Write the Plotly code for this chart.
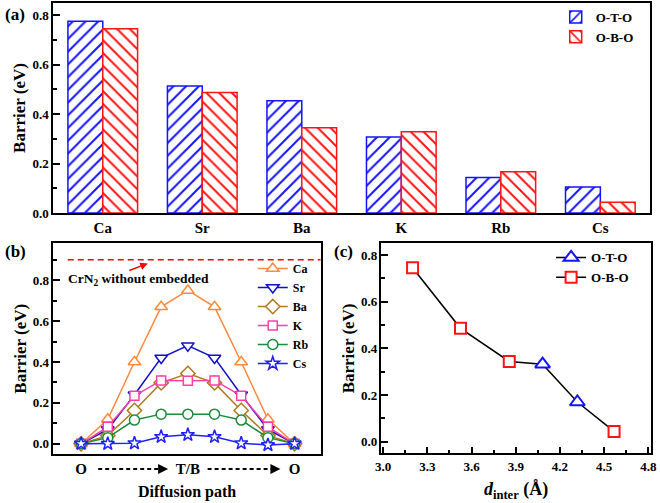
import plotly.graph_objects as go

# ---------------- data ----------------
metals = ["Ca", "Sr", "Ba", "K", "Rb", "Cs"]
oto_barrier = [0.776, 0.514, 0.454, 0.308, 0.144, 0.105]
obo_barrier = [0.746, 0.488, 0.345, 0.329, 0.167, 0.044]

path_index = [0, 1, 2, 3, 4, 5, 6, 7, 8]
path_tickvals = [0, 4, 8]
path_ticktext = ["O", "T/B", "O"]
path_ca = [0.0, 0.12, 0.40, 0.67, 0.75, 0.67, 0.40, 0.12, 0.0]
path_sr = [0.0, 0.07, 0.24, 0.42, 0.48, 0.42, 0.24, 0.07, 0.0]
path_ba = [0.0, 0.04, 0.163, 0.298, 0.344, 0.298, 0.163, 0.04, 0.0]
path_k = [0.0, 0.083, 0.235, 0.31, 0.308, 0.31, 0.235, 0.083, 0.0]
path_rb = [0.0, 0.03, 0.116, 0.145, 0.145, 0.145, 0.116, 0.03, 0.0]
path_cs = [0.0, 0.0, 0.003, 0.034, 0.044, 0.034, 0.003, -0.006, 0.0]
pristine_barrier = 0.90

d_inter = [3.20, 3.525, 3.856, 4.082, 4.318, 4.567]
d_barrier = [0.746, 0.486, 0.344, 0.332, 0.170, 0.044]
d_path = ["O-B-O", "O-B-O", "O-B-O", "O-T-O", "O-T-O", "O-B-O"]

# ---------------- styles ----------------
FONT = "Liberation Serif"
BLUE = "#1414FF"
RED = "#FF1414"
series_b = [
    ("Ca", path_ca, "#FF8A3D", "triangle-up", 11),
    ("Sr", path_sr, "#1010C8", "triangle-down", 11),
    ("Ba", path_ba, "#B07A1E", "diamond", 11),
    ("K", path_k, "#FF3FA6", "square", 9),
    ("Rb", path_rb, "#1A8C3C", "circle", 10),
    ("Cs", path_cs, "#2020FF", "star", 10),
]

fig = go.Figure()

# ---------------- panel (a) ----------------
fig.add_trace(go.Bar(
    x=metals, y=oto_barrier, name="O-T-O", xaxis="x", yaxis="y", legend="legend",
    marker=dict(color="white", line=dict(color=BLUE, width=1.5),
                pattern=dict(shape="/", fgcolor=BLUE, bgcolor="white", fgopacity=1,
                             size=9, solidity=0.22)),
))
fig.add_trace(go.Bar(
    x=metals, y=obo_barrier, name="O-B-O", xaxis="x", yaxis="y", legend="legend",
    marker=dict(color="white", line=dict(color=RED, width=1.5),
                pattern=dict(shape="\\", fgcolor=RED, bgcolor="white", fgopacity=1,
                             size=9, solidity=0.22)),
))

# ---------------- panel (b) ----------------
for name, vals, col, sym, sz in series_b:
    fig.add_trace(go.Scatter(
        x=path_index, y=vals, name=name, mode="lines+markers", xaxis="x2", yaxis="y2",
        legend="legend2",
        line=dict(color=col, width=1.5),
        marker=dict(symbol=sym, size=sz, color="white", line=dict(color=col, width=1.5)),
    ))

# ---------------- panel (c) ----------------
fig.add_trace(go.Scatter(
    x=d_inter, y=d_barrier, mode="lines", xaxis="x3", yaxis="y3", showlegend=False,
    line=dict(color="black", width=1.5),
))
for pname, sym, col, sz in [("O-T-O", "triangle-up", BLUE, 13), ("O-B-O", "square", RED, 11)]:
    xs = [x for x, p in zip(d_inter, d_path) if p == pname]
    ys = [y for y, p in zip(d_barrier, d_path) if p == pname]
    fig.add_trace(go.Scatter(
        x=xs, y=ys, mode="markers", xaxis="x3", yaxis="y3", showlegend=False,
        marker=dict(symbol=sym, size=sz, color="white", line=dict(color=col, width=2)),
    ))
    fig.add_trace(go.Scatter(
        x=[None], y=[None], name=pname, mode="lines+markers", xaxis="x3", yaxis="y3",
        legend="legend3",
        line=dict(color="black", width=1.5),
        marker=dict(symbol=sym, size=sz, color="white", line=dict(color=col, width=2)),
    ))

axis_common = dict(showline=True, linecolor="black", linewidth=1.5, mirror=True,
                   zeroline=False, showgrid=False, automargin=False)
ytick_common = dict(ticks="inside", ticklen=7, tickwidth=1.5, tickcolor="black",
                    tickformat=".1f", dtick=0.2, tick0=0,
                    tickfont=dict(size=13, family=FONT, color="black", weight="bold"),
                    minor=dict(ticks="inside", ticklen=4, tickwidth=1.5, tickcolor="black", dtick=0.1))
ytitle = dict(text="Barrier (eV)", font=dict(size=17, family=FONT, color="black", weight="bold"))

fig.update_layout(
    width=660, height=503,
    margin=dict(l=0, r=0, t=0, b=0),
    paper_bgcolor="white", plot_bgcolor="white",
    font=dict(family=FONT, color="black", weight="bold"),
    bargap=0.3, bargroupgap=0,
    xaxis=dict(domain=[0.0803, 0.985], anchor="y", **axis_common,
               ticks="", tickfont=dict(size=15, family=FONT, color="black", weight="bold")),
    yaxis=dict(domain=[0.5765, 0.994], anchor="x", range=[0, 0.85], **axis_common,
               **ytick_common, title=dict(standoff=2, **ytitle)),
    xaxis2=dict(domain=[0.0808, 0.486], anchor="y2", range=[-1.04, 8.98], **axis_common,
                ticks="", tickvals=path_tickvals, ticktext=path_ticktext,
                tickfont=dict(size=15, family=FONT, color="black", weight="bold"),
                title=dict(text="Diffusion path", standoff=10,
                           font=dict(size=16, family=FONT, color="black", weight="bold"))),
    yaxis2=dict(domain=[0.0974, 0.516], anchor="x2", range=[-0.05, 0.98], **axis_common,
                **ytick_common, title=dict(standoff=2, **ytitle)),
    xaxis3=dict(domain=[0.578, 0.986], anchor="y3", range=[2.989, 4.816], **axis_common,
                ticks="inside", ticklen=7, tickwidth=1.5, tickcolor="black",
                tick0=3.0, dtick=0.3, tickformat=".1f",
                tickfont=dict(size=13, family=FONT, color="black", weight="bold"),
                minor=dict(ticks="inside", ticklen=4, tickwidth=1.5, tickcolor="black", dtick=0.15),
                title=dict(text="<i>d</i><sub>inter</sub> (Å)", standoff=10,
                           font=dict(size=18, family=FONT, color="black", weight="bold"))),
    yaxis3=dict(domain=[0.0988, 0.516], anchor="x3", range=[-0.05, 0.85], **axis_common,
                **ytick_common, title=dict(standoff=2, **ytitle)),
    legend=dict(x=0.842, y=0.996, xanchor="left", yanchor="top", bgcolor="rgba(0,0,0,0)",
                font=dict(size=13, family=FONT, color="black", weight="bold"),
                tracegroupgap=0, itemwidth=30),
    legend2=dict(x=0.383, y=0.495, xanchor="left", yanchor="top", bgcolor="rgba(0,0,0,0)",
                 font=dict(size=12, family=FONT, color="black", weight="bold"),
                 tracegroupgap=0, itemwidth=30),
    legend3=dict(x=0.835, y=0.518, xanchor="left", yanchor="top", bgcolor="rgba(0,0,0,0)",
                 font=dict(size=13, family=FONT, color="black", weight="bold"),
                 tracegroupgap=0, itemwidth=30),
)

# pristine CrN2 reference line and label
fig.add_shape(type="line", xref="x2", yref="y2", x0=-0.5, x1=8.98,
              y0=pristine_barrier, y1=pristine_barrier,
              line=dict(color="red", width=1.5, dash="6px,4px"))
fig.add_annotation(xref="x2", yref="y2", x=-0.55, y=0.805, xanchor="left", yanchor="middle",
                   text="CrN<sub>2</sub> without embedded", showarrow=False,
                   font=dict(size=13.5, family=FONT, color="black", weight="bold"))
fig.add_annotation(xref="x2", yref="y2", x=2.5, y=0.882, axref="x2", ayref="y2",
                   ax=1.75, ay=0.845, text="", showarrow=True, arrowhead=2, arrowsize=1,
                   arrowwidth=1.5, arrowcolor="red", standoff=0)

# dashed arrows on the diffusion-path axis
y_arrow = 1 - 469 / 503
for xa, xb in [(0.64, 3.26), (4.74, 7.47)]:
    fig.add_shape(type="line", xref="x2", yref="paper", x0=xa, x1=xb - 0.15,
                  y0=y_arrow, y1=y_arrow, line=dict(color="black", width=2, dash="4px,3px"))
    fig.add_annotation(xref="x2", yref="paper", x=xb, y=y_arrow, axref="pixel", ayref="pixel",
                       ax=-7, ay=0, text="", showarrow=True, arrowhead=2, arrowsize=1,
                       arrowwidth=2, arrowcolor="black", standoff=0)

# panel labels
for lbl, px, py in [("(a)", 3, 14), ("(b)", 3, 252), ("(c)", 332, 252)]:
    fig.add_annotation(xref="paper", yref="paper", x=px / 660, y=1 - py / 503,
                       xanchor="left", yanchor="middle", text=lbl, showarrow=False,
                       font=dict(size=17, family=FONT, color="black", weight="bold"))

fig.write_html("out.html", config={"displayModeBar": False},
               post_script="document.body.style.margin='0';document.body.style.padding='0';")
